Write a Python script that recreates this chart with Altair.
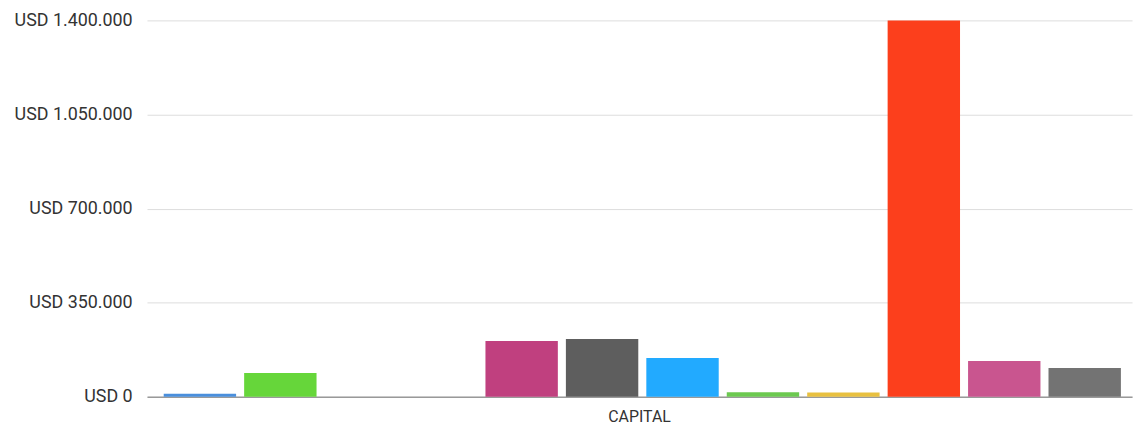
import altair as alt
import pandas as pd

category = "CAPITAL"
series = ["S01", "S02", "S03", "S04", "S05", "S06", "S07", "S08", "S09", "S10", "S11", "S12"]
values = [11000, 88000, None, None, 207000, 215000, 144000, 17000, 16000, 1400000, 133000, 107000]
colors = ["#4a8fdc", "#66d63a", "#ffffff", "#ffffff", "#c0407f", "#5e5e5e", "#22aaff",
          "#6cc950", "#e8c040", "#fc3f1c", "#c9558f", "#737373"]
y_ticks = [0, 350000, 700000, 1050000, 1400000]

df = pd.DataFrame({"cat": [category] * len(series), "series": series, "value": values})

chart = alt.Chart(df).mark_bar().encode(
    x=alt.X("cat:N", title=None,
            scale=alt.Scale(paddingInner=0, paddingOuter=0),
            axis=alt.Axis(labelAngle=0, ticks=False, domainColor="#999999", domainWidth=1.5,
                          labelFont="Roboto", labelFontSize=16, labelColor="#333333",
                          labelPadding=12)),
    xOffset=alt.XOffset("series:N", sort=series,
                        scale=alt.Scale(domain=series, paddingInner=0.1, paddingOuter=0.173,
                                        align=0.6)),
    y=alt.Y("value:Q", title=None,
            scale=alt.Scale(domain=[0, 1400000], nice=False),
            axis=alt.Axis(values=y_ticks, domain=False, ticks=False,
                          gridColor="#dddddd", labelFont="Roboto", labelFontSize=18,
                          labelColor="#333333", labelPadding=15,
                          labelExpr="'USD ' + replace(format(datum.value, ',d'), /,/g, '.')")),
    color=alt.Color("series:N", scale=alt.Scale(domain=series, range=colors), legend=None),
).properties(
    width=992, height=379,
    autosize=alt.AutoSizeParams(type="none"),
    padding={"left": 140, "top": 11, "right": 4, "bottom": 32},
).configure_view(stroke=None).configure_axis(gridColor="#dddddd")

chart.save("out.html", embed_options={"renderer": "svg", "actions": False})
